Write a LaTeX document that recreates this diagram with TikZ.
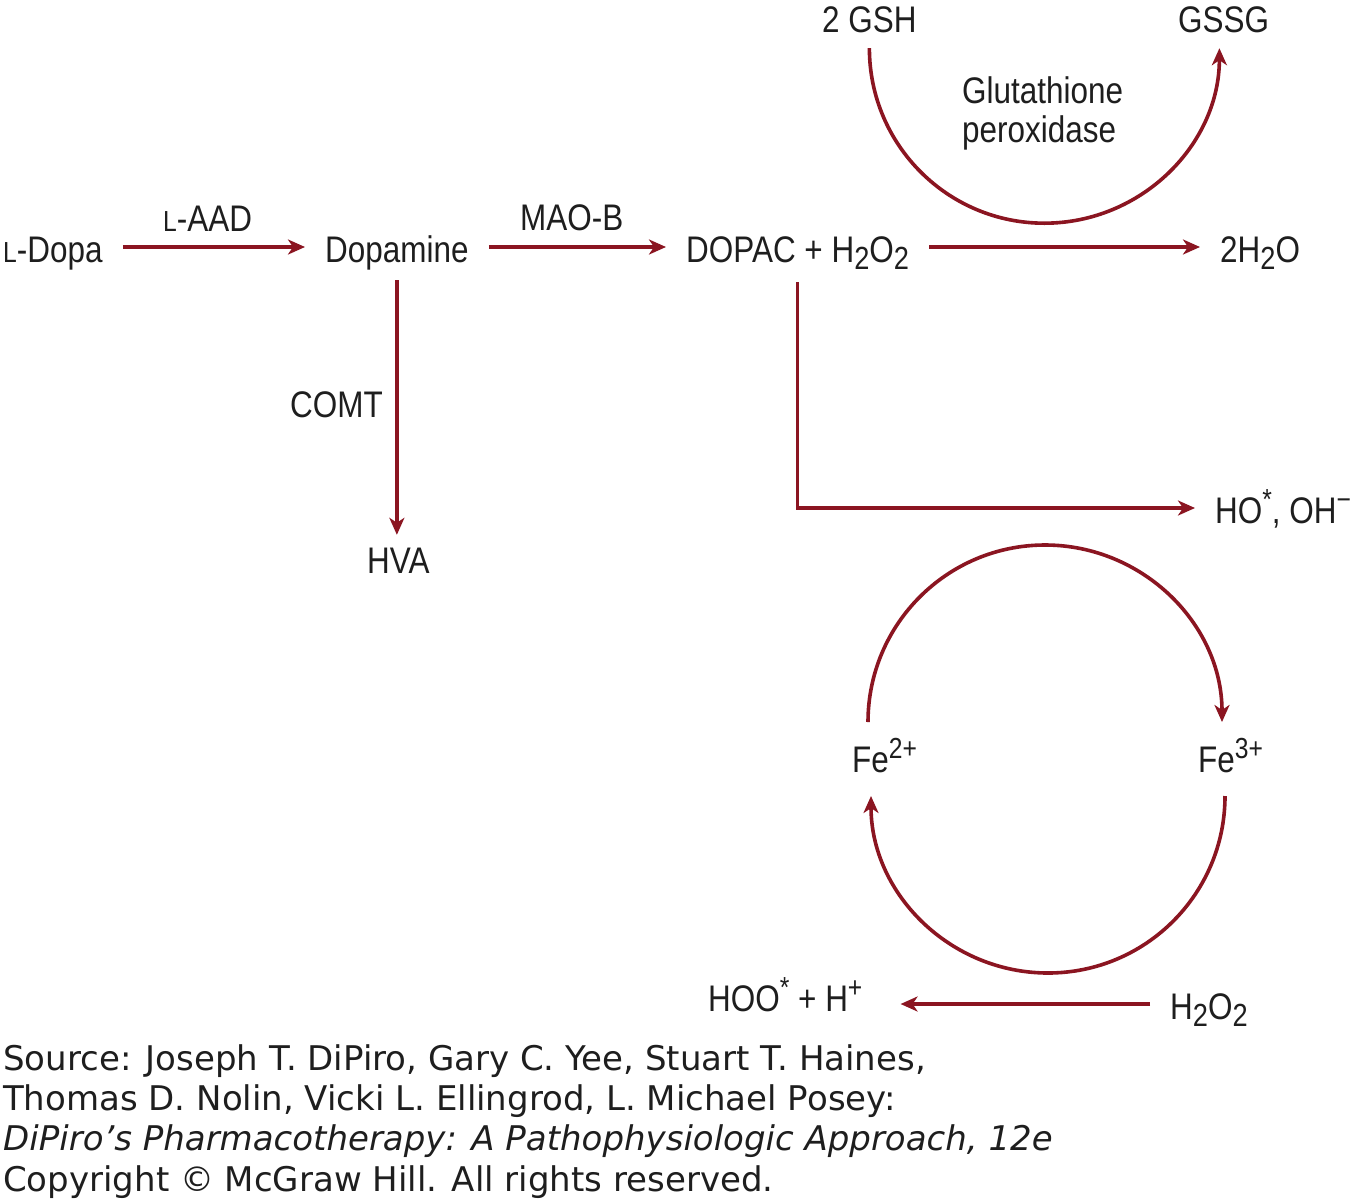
\documentclass[tikz,border=0pt]{standalone}
\usepackage{fontspec}
\setmainfont{Liberation Sans}[FakeStretch=0.85]
\newfontfamily\srcfont{DejaVu Sans}
\usetikzlibrary{arrows.meta}
\definecolor{arrred}{RGB}{139,21,33}
\definecolor{txt}{RGB}{30,30,30}
\newcommand\mysub[1]{\raisebox{-0.4ex}{\fontsize{32}{32}\selectfont #1}}
\newcommand\mysup[1]{\raisebox{0.7ex}{\fontsize{29}{29}\selectfont #1}}
\begin{document}
\begin{tikzpicture}[x=1pt,y=-1pt,
  lbl/.style={anchor=base west, inner xsep=20pt, inner ysep=8pt, text height=30pt, text depth=0pt,
    font=\fontsize{37}{40}\selectfont, text=txt},
  plain/.style={anchor=base west, inner sep=0pt, font=\fontsize{37}{40}\selectfont, text=txt},
  src/.style={anchor=base west, inner sep=0pt, font=\srcfont\fontsize{34}{40}\selectfont, text=txt},
  conn/.style={draw=arrred, line width=3.6pt, -{Stealth[length=17pt,width=15pt,inset=5pt]}}]
\useasboundingbox (0,0) rectangle (1363,1200);
\fill[white] (0,0) rectangle (1363,1200);
% compounds
\node[lbl] (ldopa) at (-17,262) {{\fontsize{29}{29}\selectfont L}-Dopa};
\node[lbl] (dopamine) at (305,262) {Dopamine};
\node[lbl] (dopac) at (666,262) {DOPAC + H\mysub{2}O\mysub{2}};
\node[lbl] (water) at (1200,262) {2H\mysub{2}O};
\node[lbl] (hva) at (347,573) {HVA};
\node[lbl] (ho) at (1195,523) {HO\mysup{*}, OH\mysup{−}};
\node[lbl] (gsh) at (802,32) {2 GSH};
\node[lbl] (gssg) at (1158,32) {GSSG};
\node[lbl] (fe2) at (832,772) {Fe\mysup{2+}};
\node[lbl] (fe3) at (1178,772) {Fe\mysup{3+}};
\node[lbl] (hoo) at (688,1011) {HOO\mysup{*} + H\mysup{+}};
\node[lbl] (hperox) at (1150,1019) {H\mysub{2}O\mysub{2}};
% enzyme labels
\node[plain] (laad) at (163,231) {{\fontsize{29}{29}\selectfont L}-AAD};
\node[plain] (maob) at (520,230) {MAO-B};
\node[plain] (comt) at (290,417) {COMT};
\node[plain] (gpx1) at (962,103) {Glutathione};
\node[plain] (gpx2) at (962,142) {peroxidase};
% connectors
\draw[conn] (ldopa.east) -- (dopamine.west);
\draw[conn] (dopamine.east) -- (dopac.west);
\draw[conn] (dopac.east) -- (water.west);
\draw[conn, shorten <=10pt] (dopamine.south) -- (dopamine.south |- hva.north);
\draw[conn, shorten <=12pt] (dopac.south) |- (ho.west);
\draw[conn] (gsh.south) ++(0,8) arc[start angle=180, end angle=0, radius=175];
\coordinate (fe2top) at (868,722);
\coordinate (fe3bot) at (1225,796);
\draw[conn] (fe2top) arc[start angle=180, end angle=360, radius=177];
\draw[conn] (fe3bot) arc[start angle=0, end angle=180, radius=177];
\draw[conn, shorten >=18pt] (hperox.west) -- (hperox.west -| hoo.east);
% source
\node[src] (src1) at (3,1070) {Source: Joseph T. DiPiro, Gary C. Yee, Stuart T. Haines,};
\node[src] (src2) at (3,1110) {Thomas D. Nolin, Vicki L. Ellingrod, L. Michael Posey:};
\node[src] (src3) at (3,1150) {\itshape DiPiro’s Pharmacotherapy: A Pathophysiologic Approach, 12e};
\node[src] (src4) at (3,1191) {Copyright © McGraw Hill. All rights reserved.};
\end{tikzpicture}
\end{document}
